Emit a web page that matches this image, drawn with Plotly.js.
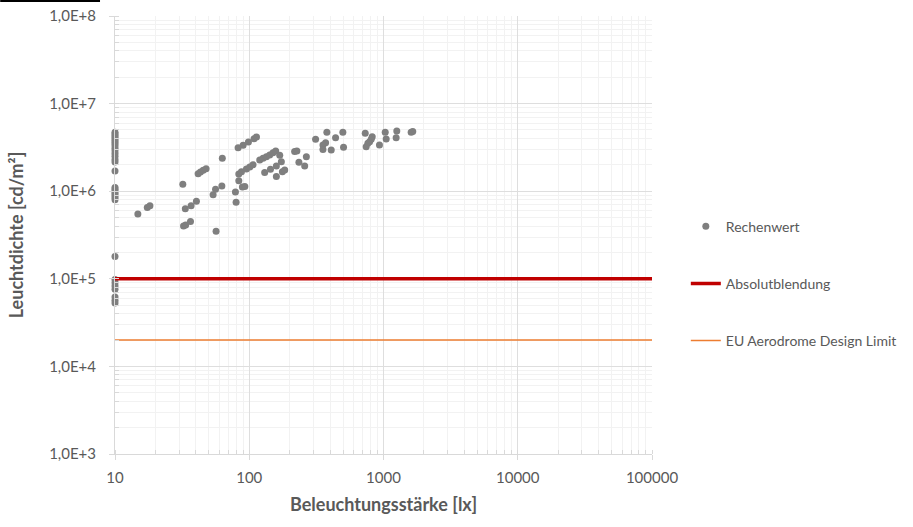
<!DOCTYPE html>
<html>
<head>
<meta charset="utf-8">
<script src="https://cdn.plot.ly/plotly-3.0.1.min.js"></script>
<style>html,body{margin:0;padding:0;background:#fff;}#chart{width:913px;height:527px;}</style>
</head>
<body>
<div id="chart"></div>
<script>
// Rechenwert: illuminance [lx] and luminance [cd/m²]
const xRechen = [
  10,10,10,10,10,10,10,10,10,10,10,10,10,10,10,
  10,10,10,10,10,10,10,10,10,10,10,10,10,10,10,
  14.8,17.4,18.2,
  32,33.4,36.9,40.4,32.4,33.6,36.5,
  56.6,41.6,43.3,45.4,47.7,63,
  53.8,56.1,62.5,78.9,79.8,83.6,
  82.6,90,98.6,108.6,113.2,
  83.6,87.5,95.3,100.9,106.7,
  88.9,92.7,
  119.7,126.7,134.2,142,150.3,157.4,
  168.7,130.3,143.9,159.2,173.4,159.2,176.5,183.7,
  217.8,226.3,234.4,258.8,266.3,
  312,378.5,370.5,354,354,408,439.5,498,504,
  731,824,810,788,765,743,933,
  1030,1047,1256,1242,1607,1652
];
const yRechen = [
  4.7e6,4.5e6,4.3e6,4.1e6,3.9e6,3.7e6,3.5e6,3.3e6,3.1e6,2.9e6,2.7e6,2.5e6,2.3e6,2.15e6,1.7e6,
  1.1e6,1.05e6,1.0e6,0.95e6,0.9e6,0.85e6,0.8e6,1.8e5,9.8e4,9.0e4,8.3e4,7.6e4,6.2e4,5.7e4,5.3e4,
  5.5e5,6.5e5,6.8e5,
  1.2e6,6.3e5,6.8e5,7.7e5,4.0e5,4.1e5,4.5e5,
  3.5e5,1.58e6,1.66e6,1.73e6,1.81e6,2.37e6,
  9.1e5,1.05e6,1.15e6,9.8e5,7.5e5,1.32e6,
  3.14e6,3.34e6,3.65e6,3.98e6,4.16e6,
  1.57e6,1.67e6,1.79e6,1.89e6,2.0e6,
  1.12e6,1.13e6,
  2.27e6,2.37e6,2.47e6,2.59e6,2.75e6,2.87e6,
  2.57e6,1.63e6,1.78e6,1.94e6,2.17e6,1.47e6,1.67e6,1.75e6,
  2.83e6,2.88e6,2.14e6,1.94e6,2.48e6,
  3.91e6,4.7e6,3.58e6,3.37e6,3.0e6,2.95e6,4.08e6,4.7e6,3.17e6,
  4.58e6,4.19e6,3.91e6,3.67e6,3.52e6,3.22e6,3.37e6,
  4.7e6,3.95e6,4.87e6,4.08e6,4.7e6,4.8e6
];
// Limit lines
const limitX = [10, 100000];
const absolutY = [1e5, 1e5];
const euY = [2e4, 2e4];
// Tick labels
const xTickVals = [10, 100, 1000, 10000, 100000];
const xTickText = ['10', '100', '1000', '10000', '100000'];
const yTickVals = [1e3, 1e4, 1e5, 1e6, 1e7, 1e8];
const yTickText = ['1,0E+3', '1,0E+4', '1,0E+5', '1,0E+6', '1,0E+7', '1,0E+8'];

const FONT = 'Lato, "Open Sans", sans-serif';
const TXT = '#595959';

const traces = [
  {
    x: xRechen, y: yRechen, type: 'scatter', mode: 'markers', name: 'Rechenwert',
    legendgroup: 'a', cliponaxis: false,
    marker: {color: '#7f7f7f', size: 7}
  },
  {
    x: limitX, y: absolutY, type: 'scatter', mode: 'lines', name: 'Absolutblendung',
    legendgroup: 'b',
    line: {color: '#c00000', width: 3.5}
  },
  {
    x: limitX, y: euY, type: 'scatter', mode: 'lines', name: 'EU Aerodrome Design Limit',
    legendgroup: 'c',
    line: {color: '#ed7d31', width: 1.5}
  }
];

const axisCommon = {
  type: 'log',
  showline: true, linecolor: '#d9d9d9', linewidth: 1,
  showgrid: true, gridcolor: '#dedede', gridwidth: 1,
  ticks: 'outside', ticklen: 5, tickcolor: '#d9d9d9',
  tickmode: 'array',
  zeroline: false,
  tickfont: {family: FONT, size: 15, color: TXT},
  minor: {dtick: 'D1', ticks: 'inside', ticklen: 4, tickcolor: '#d9d9d9', showgrid: true, gridcolor: '#f2f2f2', gridwidth: 1}
};

const layout = {
  width: 913, height: 527,
  margin: {l: 115, r: 260, t: 16, b: 73},
  paper_bgcolor: '#ffffff', plot_bgcolor: '#ffffff',
  font: {family: FONT, color: TXT, size: 14},
  showlegend: true,
  legend: {
    x: 1.061, xanchor: 'left', y: 0.389, yanchor: 'middle',
    traceorder: 'grouped', tracegroupgap: 36,
    font: {family: FONT, size: 14, color: TXT},
    bgcolor: 'rgba(0,0,0,0)'
  },
  xaxis: Object.assign({}, axisCommon, {
    range: [1, 5],
    tickvals: xTickVals, ticktext: xTickText,
    ticklabelstandoff: 5,
    title: {text: 'Beleuchtungsstärke [lx]', font: {family: FONT, size: 18, color: TXT, weight: 'bold'}, standoff: 13}
  }),
  yaxis: Object.assign({}, axisCommon, {
    range: [3, 8],
    tickvals: yTickVals, ticktext: yTickText,
    ticklabelstandoff: 10,
    title: {text: 'Leuchtdichte [cd/m²]', font: {family: FONT, size: 18, color: TXT, weight: 'bold'}, standoff: 20}
  }),
  shapes: [
    {type: 'line', xref: 'paper', yref: 'paper', x0: -0.2138, x1: -0.0279, y0: 1.034, y1: 1.034,
     line: {color: '#000000', width: 2}}
  ]
};

Plotly.newPlot('chart', traces, layout, {displayModeBar: false, staticPlot: true});
</script>
</body>
</html>
